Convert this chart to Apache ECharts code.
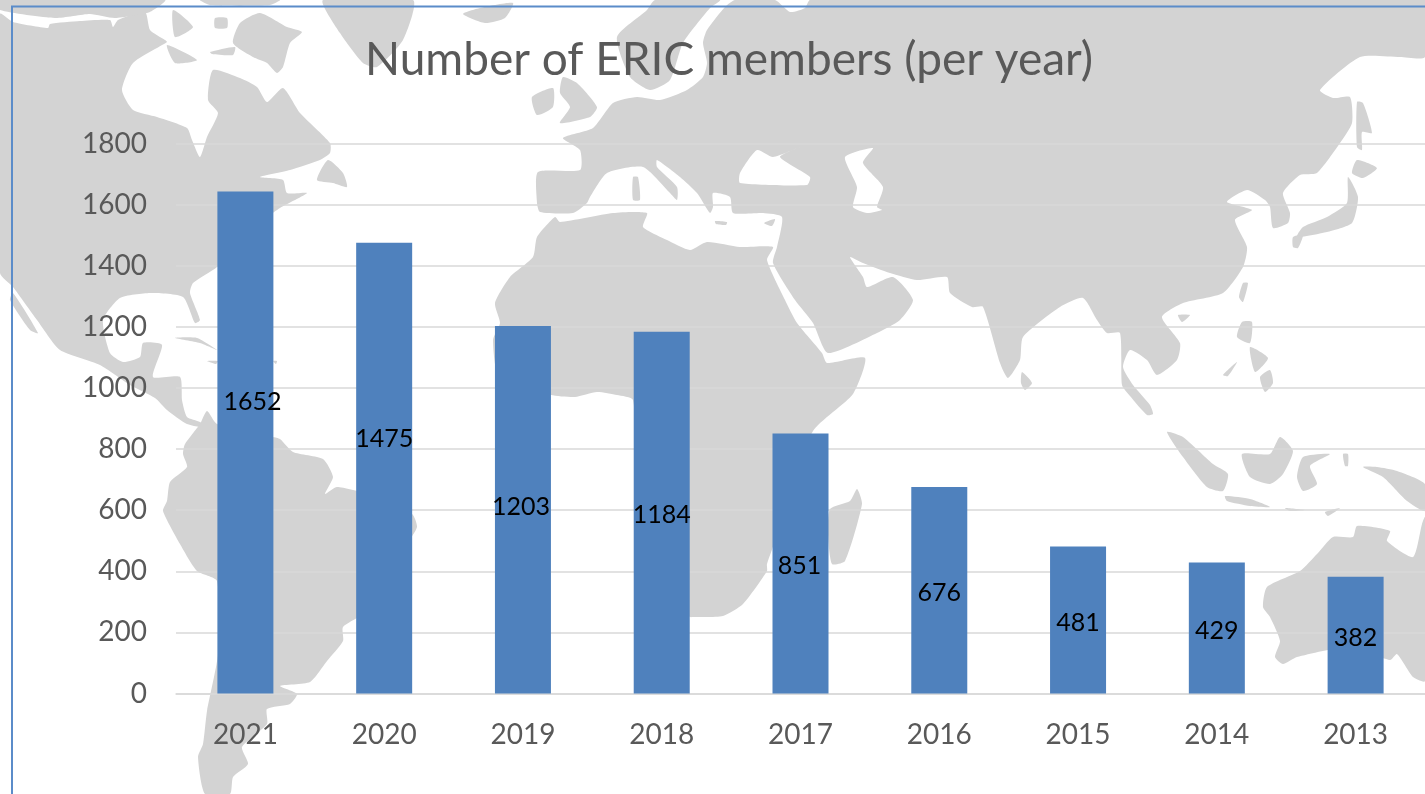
<!DOCTYPE html>
<html>
<head>
<meta charset="utf-8">
<title>Number of ERIC members (per year)</title>
<script src="https://cdn.jsdelivr.net/npm/echarts@6/dist/echarts.min.js"></script>
<style>
    html, body { margin: 0; padding: 0; background: #fff; overflow: hidden; }
    #chart { width: 1425px; height: 794px; }
</style>
</head>
<body>
<div id="chart"></div>
<script>
// chart data
var years = ["2021", "2020", "2019", "2018", "2017", "2016", "2015", "2014", "2013"];
var barValues = [1643, 1475, 1203, 1184, 851, 676, 481, 429, 382]; // the 2021 bar is drawn a bit lower than its label says
var barLabels = ["1652", "1475", "1203", "1184", "851", "676", "481", "429", "382"];
var labelShifts = [[7, -41], [0, -29], [-2, -3], [0, 2], [-1, 2], [0, 3], [0, 3], [0, 3], [0, 3]];

// world map behind the plot, page pixels, traced by hand
var mapLand = [
    // north + central america
    [[0,14],[13,22],[48,28],[50,24],[80,21],[110,20],[113,27],[118,20],[145,12],[150,30],[165,40],[167,42],[133,63],[122,90],[133,110],[157,117],[187,128],[192,140],[200,157],[207,137],[218,113],[208,100],[213,70],[240,78],[257,87],[267,102],[283,88],[300,113],[330,143],[330,153],[320,160],[290,170],[260,177],[283,180],[287,193],[307,193],[280,208],[250,230],[217,267],[193,283],[190,293],[200,320],[195,323],[183,297],[150,293],[120,298],[103,320],[110,353],[123,362],[140,357],[143,343],[162,345],[153,377],[180,377],[182,400],[187,417],[200,422],[207,428],[187,424],[167,410],[155,398],[130,385],[100,365],[60,350],[37,320],[13,287],[0,273]],
    [[13,293],[38,333],[30,330],[10,300]],
    // arctic islands
    [[233,43],[240,23],[260,13],[287,27],[302,32],[290,43],[283,67],[277,73],[267,63],[253,57]],
    [[200,0],[280,0],[270,5],[210,5]],
    [[167,45],[197,60],[175,63]],
    [[210,52],[235,47],[233,55],[212,54]],
    [[173,10],[193,27],[175,37]],
    [[0,0],[165,0],[150,12],[115,18],[90,14],[55,18],[0,10]],
    [[215,18],[227,18],[227,28],[215,28]],
    [[317,180],[328,160],[343,173],[347,187],[333,183]],
    [[323,0],[413,0],[403,40],[377,67],[363,63],[340,33]],
    [[463,14],[480,8],[513,3],[505,18],[485,23]],
    // caribbean
    [[175,338],[197,338],[217,350],[200,343]],
    [[207,361],[218,361],[216,364]],
    [[273,361],[277,361],[276,364]],
    // south america
    [[200,424],[185,444],[183,454],[187,467],[170,482],[167,501],[163,511],[180,544],[197,571],[217,581],[218,654],[207,711],[203,744],[198,757],[205,794],[230,794],[233,777],[248,764],[242,747],[267,724],[267,709],[290,704],[297,694],[280,686],[310,682],[327,661],[343,641],[343,627],[367,611],[407,544],[417,527],[412,514],[367,494],[337,487],[325,494],[333,477],[323,459],[293,452],[280,439],[273,437],[217,424],[207,411]],
    // africa
    [[555,217],[537,237],[533,257],[510,277],[495,303],[500,323],[493,340],[500,380],[551,395],[575,397],[597,392],[617,395],[633,400],[640,500],[660,600],[690,617],[693,617],[723,616],[743,604],[767,571],[767,564],[790,500],[813,431],[853,394],[865,358],[827,363],[822,353],[797,323],[785,300],[767,260],[773,247],[740,247],[707,242],[690,250],[667,240],[643,227],[647,213],[613,213],[560,222]],
    // eurasia
    [[537,203],[538,172],[580,170],[580,150],[563,138],[593,128],[613,103],[637,97],[660,100],[687,90],[703,77],[707,63],[703,43],[707,30],[725,7],[735,0],[775,0],[790,12],[805,8],[810,0],[1425,0],[1425,57],[1400,57],[1360,57],[1320,90],[1333,98],[1350,97],[1352,123],[1340,143],[1317,173],[1300,175],[1283,193],[1290,213],[1288,223],[1273,228],[1270,207],[1265,200],[1247,190],[1227,202],[1252,210],[1235,220],[1247,247],[1243,267],[1223,293],[1183,303],[1162,317],[1180,343],[1177,360],[1157,375],[1147,360],[1130,350],[1123,367],[1133,385],[1150,405],[1153,414],[1147,415],[1130,396],[1122,385],[1120,333],[1107,333],[1097,320],[1083,298],[1060,307],[1023,337],[1020,360],[1008,378],[1000,363],[983,307],[972,307],[950,293],[947,277],[917,280],[890,273],[863,263],[850,257],[863,277],[867,287],[893,277],[913,300],[900,320],[877,333],[828,353],[813,323],[795,300],[773,263],[777,247],[782,217],[763,213],[733,213],[730,197],[713,193],[713,207],[710,213],[697,193],[680,177],[657,160],[657,167],[677,187],[677,200],[670,193],[643,167],[607,173],[590,197],[587,203],[573,213],[540,212]],
    // scandinavia
    [[647,10],[617,37],[630,77],[650,90],[670,80],[683,43],[710,8],[720,0],[655,0]],
    // uk, ireland, med islands
    [[560,123],[570,107],[560,93],[563,77],[577,83],[597,107],[590,117]],
    [[532,97],[553,88],[553,107],[537,115]],
    [[633,177],[638,177],[640,200],[633,200]],
    [[715,221],[727,222],[726,225],[716,224]],
    [[764,223],[775,219],[772,226]],
    // east asia islands
    [[1348,177],[1358,197],[1352,223],[1327,232],[1297,237],[1303,227],[1327,217],[1347,203]],
    [[1357,160],[1377,168],[1363,178],[1352,173]],
    [[1357,102],[1363,103],[1372,133],[1362,132],[1362,150],[1357,147]],
    [[1293,237],[1303,235],[1298,248],[1293,247]],
    [[1243,283],[1248,283],[1243,302],[1239,297]],
    [[1178,315],[1190,315],[1182,322]],
    [[1242,322],[1252,322],[1250,343],[1237,337]],
    [[1260,377],[1270,370],[1273,383],[1265,392]],
    [[1250,347],[1268,358],[1255,372]],
    [[1223,375],[1237,362],[1228,376]],
    [[1022,372],[1032,383],[1025,390],[1021,383]],
    // indonesia + png
    [[1167,432],[1183,437],[1213,464],[1228,474],[1223,491],[1207,487],[1183,457]],
    [[1225,496],[1250,499],[1270,507],[1250,506],[1227,501]],
    [[1285,508],[1305,510],[1290,511]],
    [[1325,512],[1340,508],[1328,516]],
    [[1242,454],[1270,454],[1280,437],[1293,451],[1283,474],[1270,484],[1250,477]],
    [[1297,477],[1303,457],[1330,454],[1310,466],[1317,484],[1303,491]],
    [[1363,467],[1377,467],[1397,471],[1425,484],[1425,511],[1407,501],[1383,477]],
    [[1343,454],[1348,454],[1348,466],[1345,466]],
    // madagascar
    [[857,489],[862,504],[845,561],[832,564],[828,534],[830,509],[850,501]],
    // australia
    [[1263,607],[1267,587],[1300,571],[1317,554],[1333,537],[1353,537],[1357,526],[1390,531],[1387,541],[1413,557],[1422,524],[1425,517],[1425,681],[1413,677],[1397,654],[1390,660],[1350,647],[1297,657],[1283,664],[1275,657],[1280,641],[1270,617]]
];
var mapWater = [
    // black sea, caspian
    [[740,173],[757,150],[773,157],[800,147],[780,157],[810,177],[807,185],[740,183]],
    [[845,157],[873,148],[863,163],[883,187],[877,207],[882,210],[867,213],[853,207],[857,187]]
];

// 背景地图 + 边框
function fnMapGraphics(aLand, aWater) {
    var aList = [];
    aLand.forEach(function (aPoints) {
        aList.push({ type: "polygon", silent: true, z: -10, shape: { points: aPoints, smooth: 0.2 }, style: { fill: "#d3d3d3" } });
    });
    aWater.forEach(function (aPoints) {
        aList.push({ type: "polygon", silent: true, z: -9, shape: { points: aPoints, smooth: 0.2 }, style: { fill: "#ffffff" } });
    });
    aList.push({
        type: "polyline", silent: true, z: 20,
        shape: { points: [[12, 794], [12, 6.5], [1425, 6.5]] },
        style: { fill: null, stroke: "#5b8cc9", lineWidth: 2 }
    });
    return aList;
}

var oBarData = barValues.map(function (iValue, i) {
    return {
        value: iValue,
        label: { offset: labelShifts[i], formatter: barLabels[i] }
    };
});

var option = {
    animation: false,
    backgroundColor: "#ffffff",
    textStyle: { fontFamily: "Lato" },
    graphic: { elements: fnMapGraphics(mapLand, mapWater) },
    title: {
        text: "Number of ERIC members (per year)",
        left: 365,
        top: 37,
        padding: 0,
        textStyle: { color: "#595959", fontSize: 46, fontWeight: "normal", fontFamily: "Lato" }
    },
    grid: { left: 176, right: 0, top: 143.5, bottom: 100.5 },
    xAxis: {
        type: "category",
        data: years,
        axisTick: { show: false },
        axisLine: { lineStyle: { color: "#d9d9d9", width: 1.5 } },
        axisLabel: { color: "#595959", fontSize: 28, margin: 27 }
    },
    yAxis: {
        type: "value",
        min: 0,
        max: 1800,
        interval: 200,
        axisLine: { show: false },
        axisTick: { show: false },
        axisLabel: {
            color: "#595959",
            fontSize: 28,
            margin: 29,
            formatter: function (iValue) { return String(iValue); }
        },
        splitLine: { lineStyle: { color: "#d9d9d9", width: 1.5 } }
    },
    series: [{
        type: "bar",
        data: oBarData,
        barWidth: 56,
        itemStyle: { color: "#4f81bd" },
        label: { show: true, position: "inside", color: "#000000", fontSize: 25, fontFamily: "Lato" }
    }]
};

var myChart = echarts.init(document.getElementById("chart"), null, { renderer: "canvas" });
myChart.setOption(option);
</script>
</body>
</html>
